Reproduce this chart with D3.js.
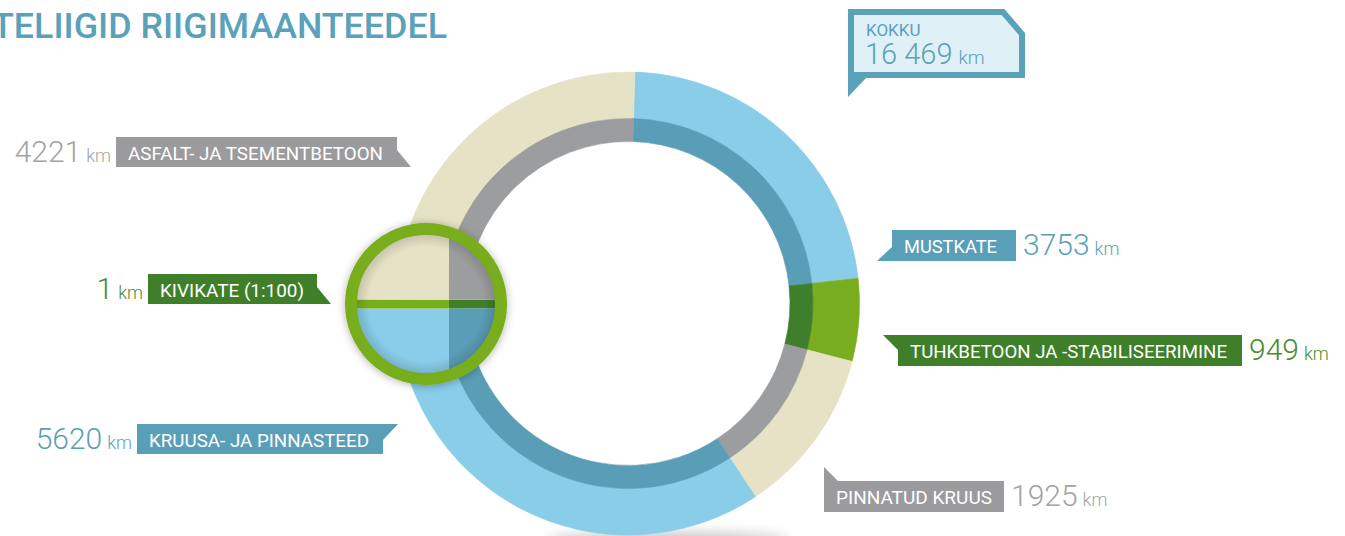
<!DOCTYPE html>
<html>
<head>
<meta charset="utf-8">
<script src="https://cdn.jsdelivr.net/npm/d3@7"></script>
<style>
  html, body { margin: 0; padding: 0; background: #fff; }
  svg { display: block; }
  text { font-family: Roboto, "Open Sans", sans-serif; }
</style>
</head>
<body>
<svg id="chart" width="1345" height="536"></svg>
<script>
// ---------- DATA ----------
const categories = [
  "MUSTKATE",
  "TUHKBETOON JA -STABILISEERIMINE",
  "PINNATUD KRUUS",
  "KRUUSA- JA PINNASTEED",
  "KIVIKATE (1:100)",
  "ASFALT- JA TSEMENTBETOON"
];
const values = [3753, 949, 1925, 5620, 1, 4221];
const unit = "km";
const titleText = "TELIIGID RIIGIMAANTEEDEL";
const totalLabel = "KOKKU";
const magnifiedIndex = 4;   // KIVIKATE shown at 1:100

// ---------- STYLE ----------
const outerColors = ["#89cde8", "#78ae1e", "#e6e2c6", "#89cde8", "#78ae1e", "#e6e2c6"];
const innerColors = ["#5a9db6", "#3f7f2b", "#9c9d9f", "#5a9db6", "#3f7f2b", "#9c9d9f"];
const boxColors   = ["#5a9fb8", "#3f7f2a", "#9b9b9d", "#5a9fb8", "#3f7f2a", "#9b9b9d"];
const numColors   = ["#5a9fb8", "#4a8b2f", "#a3a3a3", "#5a9fb8", "#4a8b2f", "#a3a3a3"];
const titleColor = "#5aa1ba";

// ---------- LAYOUT ----------
const W = 1345, H = 536;
const ring = { cx: 628, cy: 303.5, rOut: 231.5, rMid: 185, rIn: 162, start: 0.03 };
const mag = { x: 426, y: 304, r: 75, stroke: 12, zoom: 125, splitOffset: 23 };
const labelLayout = [
  { x: 892, y: 230, w: 124, h: 31, tw: 93,  side: "right", tail: "leftBottom" },
  { x: 898, y: 335, w: 344, h: 31, tw: 317, side: "right", tail: "leftTop" },
  { x: 824, y: 481, w: 180, h: 31, tw: 156, side: "right", tail: "topLeft" },
  { x: 137, y: 424, w: 246, h: 30, tw: 220, side: "left",  tail: "rightTop" },
  { x: 148, y: 274, w: 169, h: 30, tw: 144, side: "left",  tail: "rightBottom" },
  { x: 116, y: 137, w: 281, h: 30, tw: 255, side: "left",  tail: "rightBottom" }
];

const svg = d3.select("#chart");
const defs = svg.append("defs");

const ds = defs.append("filter").attr("id", "dropShadow")
  .attr("x", "-30%").attr("y", "-30%").attr("width", "160%").attr("height", "160%");
ds.append("feDropShadow").attr("dx", 0).attr("dy", 1).attr("stdDeviation", 4)
  .attr("flood-color", "#000").attr("flood-opacity", 0.3);

const blur = defs.append("filter").attr("id", "blurShadow")
  .attr("x", "-50%").attr("y", "-200%").attr("width", "200%").attr("height", "500%");
blur.append("feGaussianBlur").attr("stdDeviation", 7);

const innerGrad = defs.append("radialGradient").attr("id", "innerShade");
innerGrad.append("stop").attr("offset", "82%").attr("stop-color", "#000").attr("stop-opacity", 0);
innerGrad.append("stop").attr("offset", "100%").attr("stop-color", "#000").attr("stop-opacity", 0.14);

// ---------- TITLE ----------
svg.append("text")
  .attr("x", -8).attr("y", 38)
  .attr("fill", titleColor)
  .attr("font-size", 35).attr("font-weight", 500)
  .attr("textLength", 455).attr("lengthAdjust", "spacingAndGlyphs")
  .text(titleText);

// ---------- RING ----------
const total = d3.sum(values);
const pie = d3.pie().sort(null).value(d => d)
  .startAngle(ring.start).endAngle(ring.start + 2 * Math.PI);
const arcsData = pie(values);
const arcOuter = d3.arc().innerRadius(ring.rMid).outerRadius(ring.rOut);
const arcInner = d3.arc().innerRadius(ring.rIn).outerRadius(ring.rMid);

svg.append("ellipse")
  .attr("cx", ring.cx + 40).attr("cy", ring.cy + ring.rOut + 6)
  .attr("rx", 120).attr("ry", 7)
  .attr("fill", "#000").attr("opacity", 0.28)
  .attr("filter", "url(#blurShadow)");

const gRing = svg.append("g").attr("transform", `translate(${ring.cx},${ring.cy})`);
gRing.selectAll("path.outer").data(arcsData).join("path")
  .attr("class", "outer")
  .attr("d", arcOuter)
  .attr("fill", (d, i) => outerColors[i])
  .attr("stroke", (d, i) => outerColors[i]).attr("stroke-width", 0.6);
gRing.selectAll("path.inner").data(arcsData).join("path")
  .attr("class", "inner")
  .attr("d", arcInner)
  .attr("fill", (d, i) => innerColors[i])
  .attr("stroke", (d, i) => innerColors[i]).attr("stroke-width", 0.6);

// ---------- MAGNIFIER (1:100 view of the tiny slice) ----------
const md = arcsData[magnifiedIndex];
const midA = (md.startAngle + md.endAngle) / 2;
const rF = ring.rMid + mag.splitOffset / mag.zoom;
const fx = rF * Math.sin(midA);      // focus point in arc-local coords
const fy = -rF * Math.cos(midA);
const rot = (1.5 * Math.PI - midA) * 180 / Math.PI;

defs.append("clipPath").attr("id", "magClip")
  .append("circle").attr("cx", mag.x).attr("cy", mag.y).attr("r", mag.r - mag.stroke / 2 + 1);

const gMag = svg.append("g").attr("filter", "url(#dropShadow)");
gMag.append("circle").attr("cx", mag.x).attr("cy", mag.y).attr("r", mag.r).attr("fill", "#fff");
const gMagIn = gMag.append("g").attr("clip-path", "url(#magClip)");
const gZoom = gMagIn.append("g")
  .attr("transform", `translate(${mag.x},${mag.y}) rotate(${rot}) scale(${mag.zoom}) translate(${-fx},${-fy})`);
gZoom.selectAll("path.mo").data(arcsData).join("path")
  .attr("class", "mo").attr("d", arcOuter).attr("fill", (d, i) => outerColors[i]);
gZoom.selectAll("path.mi").data(arcsData).join("path")
  .attr("class", "mi").attr("d", arcInner).attr("fill", (d, i) => innerColors[i]);
gMagIn.append("circle").attr("cx", mag.x).attr("cy", mag.y).attr("r", mag.r - mag.stroke / 2 + 1)
  .attr("fill", "url(#innerShade)");
gMag.append("circle").attr("cx", mag.x).attr("cy", mag.y).attr("r", mag.r)
  .attr("fill", "none").attr("stroke", "#78ae1e").attr("stroke-width", mag.stroke);

// ---------- LABELS ----------
const fmtPlain = d3.format("d");
const fmtTotal = d3.formatLocale({ decimal: ",", thousands: " ", grouping: [3], currency: ["", ""] }).format(",d");

function tailPoints(L) {
  const { w, h } = L;
  switch (L.tail) {
    case "leftBottom":  return [[0, h - 14], [-15, h], [0, h]];
    case "leftTop":     return [[-15, 0], [0, 0], [0, 15]];
    case "topLeft":     return [[0, -14], [0, 0], [14, 0]];
    case "rightTop":    return [[w, 0], [w + 15, 0], [w, 16]];
    case "rightBottom": return [[w, h - 17], [w + 14, h], [w, h]];
  }
  return [];
}

const gLab = svg.append("g");
categories.forEach((name, i) => {
  const L = labelLayout[i];
  const g = gLab.append("g").attr("transform", `translate(${L.x},${L.y})`);
  g.append("rect").attr("width", L.w).attr("height", L.h).attr("fill", boxColors[i]);
  g.append("polygon").attr("points", tailPoints(L).map(p => p.join(",")).join(" "))
    .attr("fill", boxColors[i]);
  g.append("text")
    .attr("x", 12).attr("y", 22.5)
    .attr("fill", "#fff").attr("font-size", 19)
    .attr("textLength", L.tw).attr("lengthAdjust", "spacingAndGlyphs")
    .text(name);

  const num = g.append("text").attr("y", 25).attr("fill", numColors[i]);
  if (L.side === "left") {
    num.attr("x", -5).attr("text-anchor", "end");
  } else {
    num.attr("x", L.w + 7).attr("text-anchor", "start");
  }
  num.append("tspan").attr("font-size", 30).attr("font-weight", 300).text(fmtPlain(values[i]));
  num.append("tspan").attr("font-size", 18).attr("font-weight", 300).attr("dx", 5).text(unit);
});

// ---------- TOTAL BOX ----------
const tb = { x: 848, y: 9, w: 177, h: 69, cut: 22, bw: 6 };
const h2 = tb.bw / 2;
const gTot = svg.append("g");
gTot.append("polygon")
  .attr("points", [
    [tb.x, tb.y + tb.h - 1], [tb.x, tb.y + tb.h + 19], [tb.x + 19, tb.y + tb.h - 1]
  ].map(p => p.join(",")).join(" "))
  .attr("fill", titleColor);
gTot.append("polygon")
  .attr("points", [
    [tb.x + h2, tb.y + h2],
    [tb.x + tb.w - tb.cut, tb.y + h2],
    [tb.x + tb.w - h2, tb.y + tb.cut + h2],
    [tb.x + tb.w - h2, tb.y + tb.h - h2],
    [tb.x + h2, tb.y + tb.h - h2]
  ].map(p => p.join(",")).join(" "))
  .attr("fill", "#dff0f7").attr("stroke", titleColor).attr("stroke-width", tb.bw)
  .attr("stroke-linejoin", "miter");
gTot.append("text").attr("x", 866).attr("y", 36)
  .attr("fill", titleColor).attr("font-size", 17).text(totalLabel);
const tt = gTot.append("text").attr("x", 865).attr("y", 64).attr("fill", titleColor);
tt.append("tspan").attr("font-size", 29).attr("font-weight", 300).text(fmtTotal(total));
tt.append("tspan").attr("font-size", 19).attr("font-weight", 300).attr("dx", 6).text(unit);
</script>
</body>
</html>
